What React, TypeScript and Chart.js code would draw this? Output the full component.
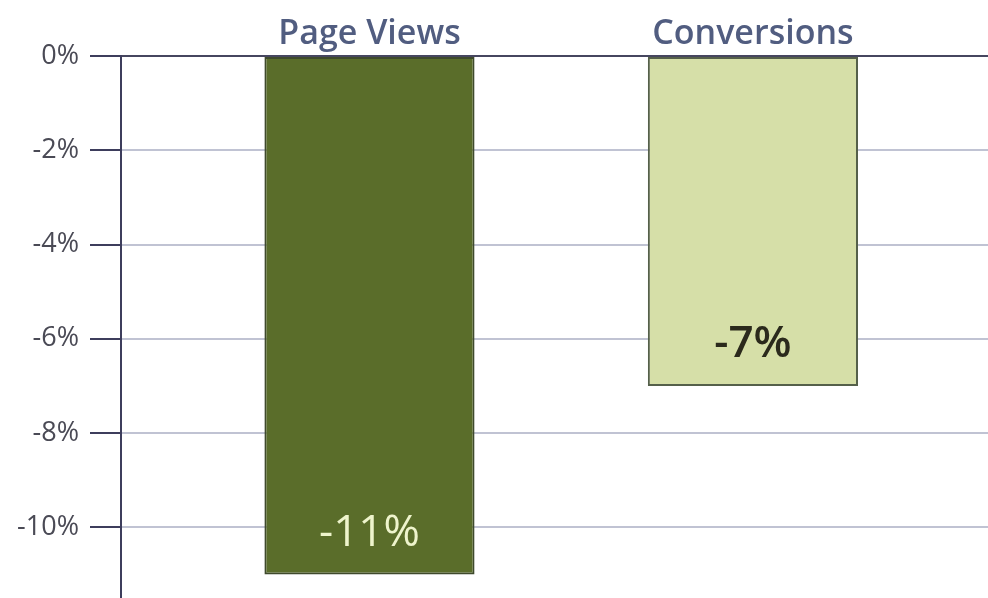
import React, { useEffect, useRef } from 'react';
import { Chart, registerables } from 'chart.js';

Chart.register(...registerables);

const categories = ['Page Views', 'Conversions'];
const values = [-11, -7];
const valueLabels = ['-11%', '-7%'];
const yTicks = [0, -2, -4, -6, -8, -10];
const barColors = ['#5a6d2a', '#d6dfa8'];
const barBorders = ['#3f4a2c', '#55604a'];
const labelColors = ['#eef4cc', '#2b2a1c'];
const labelWeights = ['500', '600'];

const FONT = '"Open Sans", "Noto Sans", sans-serif';

const valueLabelPlugin = {
  id: 'valueLabels',
  afterDatasetsDraw(chart: any) {
    const ctx = chart.ctx;
    const meta = chart.getDatasetMeta(0);
    ctx.save();
    ctx.textAlign = 'center';
    ctx.textBaseline = 'middle';
    meta.data.forEach((el: any, i: number) => {
      ctx.font = `${labelWeights[i]} 44px ${FONT}`;
      ctx.fillStyle = labelColors[i];
      ctx.fillText(valueLabels[i], el.x, el.y - 41);
    });
    ctx.restore();
  },
};

export default function App() {
  const ref = useRef<HTMLCanvasElement | null>(null);

  useEffect(() => {
    document.body.style.margin = '0';
    const canvas = ref.current;
    if (!canvas) return;
    const chart = new Chart(canvas, {
      type: 'bar',
      data: {
        datasets: [
          {
            data: values.map((v, i) => ({ x: i + 1, y: v })),
            backgroundColor: barColors,
            borderColor: barBorders,
            borderWidth: 2,
            borderSkipped: false,
            barPercentage: 0.548,
            categoryPercentage: 1,
          },
        ],
      },
      options: {
        animation: false,
        responsive: true,
        maintainAspectRatio: false,
        layout: { padding: 0 },
        plugins: { legend: { display: false }, tooltip: { enabled: false } },
        scales: {
          x: {
            type: 'linear',
            position: 'top',
            offset: false,
            bounds: 'data',
            grace: 0,
            min: 0.352,
            max: 2.613,
            afterBuildTicks: (scale: any) => {
              scale.ticks = categories.map((_, i) => ({ value: i + 1 }));
            },
            afterFit: (scale: any) => {
              scale.height = 56;
              scale.paddingLeft = 0;
              scale.paddingRight = 0;
            },
            grid: { display: false },
            border: { display: true, color: '#46465f', width: 2 },
            ticks: {
              autoSkip: false,
              maxRotation: 0,
              padding: -7,
              color: '#515d80',
              font: { family: FONT, size: 34, weight: '600' },
              callback: (_v: any, index: number) => categories[index],
            },
          },
          y: {
            type: 'linear',
            min: -11.5,
            max: 0,
            afterBuildTicks: (scale: any) => {
              scale.ticks = yTicks.map((v) => ({ value: v }));
            },
            afterFit: (scale: any) => {
              scale.width = 121;
              scale.paddingTop = 0;
              scale.paddingBottom = 0;
            },
            grid: {
              color: (c: any) => (c.tick && c.tick.value === 0 ? '#46465f' : '#c0c3d3'),
              lineWidth: 2,
              tickColor: '#3d3d5c',
              tickLength: 31,
              tickWidth: 2,
            },
            border: { display: true, color: '#3d3d5c', width: 2 },
            ticks: {
              padding: 11,
              color: '#4a4a55',
              font: { family: FONT, size: 27 },
              callback: (v: any) => `${v}%`,
            },
          },
        },
      },
      plugins: [valueLabelPlugin],
    } as any);
    return () => chart.destroy();
  }, []);

  return (
    <div style={{ width: 988, height: 598, position: 'relative' }}>
      <canvas ref={ref} />
    </div>
  );
}
